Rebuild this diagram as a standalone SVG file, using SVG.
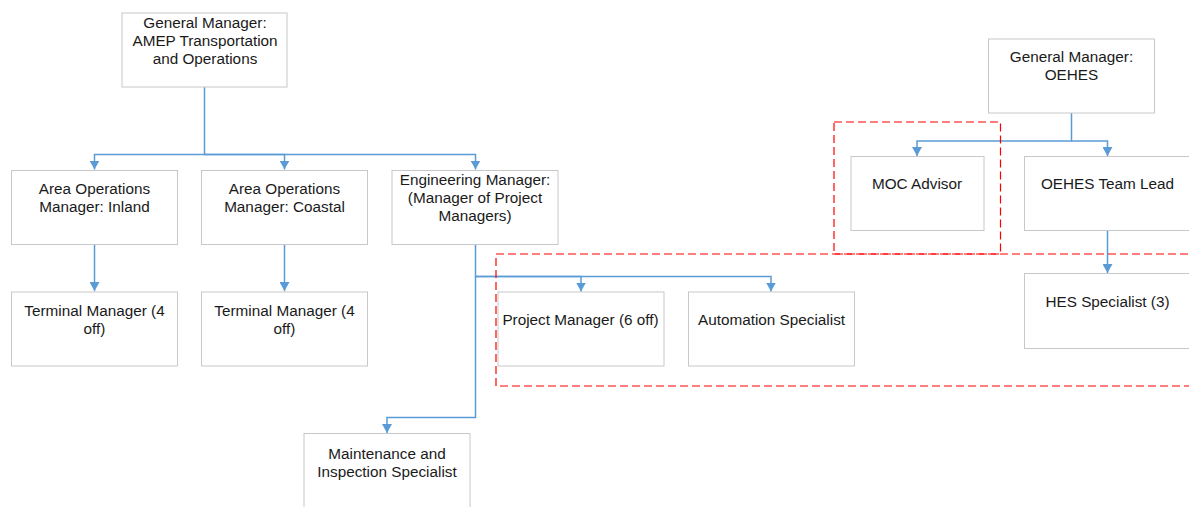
<svg xmlns="http://www.w3.org/2000/svg" width="1189" height="507" viewBox="0 0 1189 507">
<style>
.box{fill:#fff;stroke:#c8c8c8;stroke-width:1}
.t{font-family:"Liberation Sans",Arial,sans-serif;font-size:15.3px;fill:#1a1a1a;text-anchor:middle}
.c{fill:none;stroke:#5b9bd5;stroke-width:1.5}
.grp{fill:none;stroke:#ff0000;stroke-width:1.2;stroke-dasharray:8,4}
</style>
<defs>
<marker id="ah" viewBox="0 0 9 10" refX="9" refY="5" markerWidth="9" markerHeight="10" markerUnits="userSpaceOnUse" orient="auto">
<path d="M0,0 L9,5 L0,10 z" fill="#5b9bd5"/>
</marker>
</defs>
<rect width="1189" height="507" fill="#fff"/>
<g id="connectors">
<path class="c" d="M204.5,87 V154.5 H94.5 V169.5" marker-end="url(#ah)"/>
<path class="c" d="M204.5,154.5 H284.5 V169.5" marker-end="url(#ah)"/>
<path class="c" d="M204.5,154.5 H475.5 V169.5" marker-end="url(#ah)"/>
<path class="c" d="M94.5,244 V291" marker-end="url(#ah)"/>
<path class="c" d="M284.5,244 V291" marker-end="url(#ah)"/>
<path class="c" d="M475.5,244 V276.5 H581 V291.5" marker-end="url(#ah)"/>
<path class="c" d="M475.5,276.5 H771 V291.5" marker-end="url(#ah)"/>
<path class="c" d="M475.5,276.5 V417.5 H387 V433" marker-end="url(#ah)"/>
<path class="c" d="M1071.5,112.5 V141 H917 V156" marker-end="url(#ah)"/>
<path class="c" d="M1071.5,141 H1107.5 V156" marker-end="url(#ah)"/>
<path class="c" d="M1107.5,230.5 V273" marker-end="url(#ah)"/>
</g>
<g id="n-gm-amep"><rect class="box" x="122" y="13" width="165" height="74"/>
<text class="t" x="205" y="27.5">General Manager:</text><text class="t" x="205" y="45.5">AMEP Transportation</text><text class="t" x="205" y="63.5">and Operations</text></g>
<g id="n-area-inland"><rect class="box" x="11.5" y="170.5" width="166" height="74"/>
<text class="t" x="94.5" y="194">Area Operations</text><text class="t" x="94.5" y="212">Manager: Inland</text></g>
<g id="n-area-coastal"><rect class="box" x="201.5" y="170.5" width="166" height="74"/>
<text class="t" x="284.5" y="194">Area Operations</text><text class="t" x="284.5" y="212">Manager: Coastal</text></g>
<g id="n-eng"><rect class="box" x="392" y="170.5" width="166" height="74"/>
<text class="t" x="475" y="184.5">Engineering Manager:</text><text class="t" x="475" y="202.5">(Manager of Project</text><text class="t" x="475" y="220.5">Managers)</text></g>
<g id="n-term1"><rect class="box" x="11.5" y="292" width="166" height="74"/>
<text class="t" x="94.5" y="315.5">Terminal Manager (4</text><text class="t" x="94.5" y="334">off)</text></g>
<g id="n-term2"><rect class="box" x="201.5" y="292" width="166" height="74"/>
<text class="t" x="284.5" y="315.5">Terminal Manager (4</text><text class="t" x="284.5" y="334">off)</text></g>
<g id="n-pm"><rect class="box" x="498" y="292" width="166" height="74"/>
<text class="t" x="580.5" y="325">Project Manager (6 off)</text></g>
<g id="n-auto"><rect class="box" x="688.5" y="292" width="166" height="74"/>
<text class="t" x="771.5" y="325">Automation Specialist</text></g>
<g id="n-maint"><rect class="box" x="304" y="433.5" width="166" height="80"/>
<text class="t" x="387" y="458.5">Maintenance and</text><text class="t" x="387" y="477">Inspection Specialist</text></g>
<g id="n-gm-oehes"><rect class="box" x="988.5" y="39" width="166" height="74"/>
<text class="t" x="1071.5" y="62">General Manager:</text><text class="t" x="1071.5" y="80">OEHES</text></g>
<g id="n-moc"><rect class="box" x="851" y="156.5" width="133" height="74"/>
<text class="t" x="917" y="189">MOC Advisor</text></g>
<g id="n-oehes-lead"><rect class="box" x="1024.5" y="156.5" width="166" height="74"/>
<text class="t" x="1107.5" y="189">OEHES Team Lead</text></g>
<g id="n-hes"><rect class="box" x="1024.5" y="273.5" width="166" height="75"/>
<text class="t" x="1107.5" y="307">HES Specialist (3)</text></g>
<g id="groups">
<rect class="grp" x="496" y="254" width="720" height="132"/>
<rect class="grp" x="834" y="122" width="166.5" height="132"/>
</g>
</svg>
